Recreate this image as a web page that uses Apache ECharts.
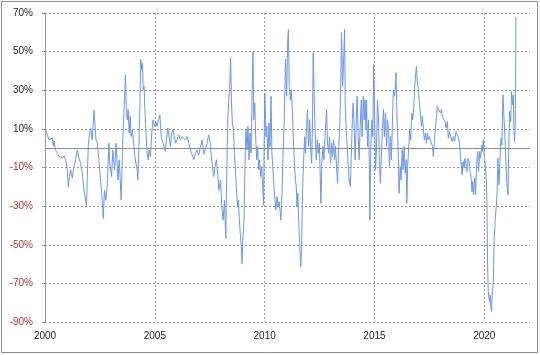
<!DOCTYPE html>
<html>
<head>
<meta charset="utf-8">
<script src="https://cdn.jsdelivr.net/npm/echarts@6/dist/echarts.min.js"></script>
<style>
html,body{margin:0;padding:0;background:#fff;}
#chart{width:540px;height:355px;}
</style>
</head>
<body>
<div id="chart"></div>
<script>
// fractional year of each observation
const years = [
2000.03,2000.11,2000.18,2000.26,2000.33,2000.38,2000.41,2000.48,2000.56,2000.64,2000.71,2000.79,2000.86,2000.94,
2001.01,2001.06,2001.11,2001.17,2001.24,2001.32,2001.39,2001.47,2001.55,2001.62,2001.70,2001.77,2001.85,2001.89,2001.92,2001.97,
2002.01,2002.08,2002.15,2002.23,2002.27,2002.32,2002.38,2002.45,2002.53,2002.61,2002.65,2002.71,2002.77,2002.83,2002.91,2002.95,
2003.03,2003.09,2003.17,2003.24,2003.32,2003.38,2003.47,2003.53,2003.59,2003.64,2003.66,2003.70,2003.74,2003.79,2003.83,2003.88,2003.92,2003.98,
2004.05,2004.09,2004.14,2004.20,2004.23,2004.27,2004.32,2004.36,2004.41,2004.44,2004.47,2004.51,2004.56,2004.60,2004.65,2004.70,2004.74,2004.80,2004.86,2004.92,2004.99,
2005.05,2005.10,2005.17,2005.23,2005.29,2005.35,2005.41,2005.47,2005.53,2005.59,2005.65,2005.71,2005.77,2005.83,2005.89,2005.95,
2006.01,2006.09,2006.17,2006.24,2006.32,2006.40,2006.47,2006.55,2006.62,2006.70,2006.77,2006.85,2006.92,
2007.00,2007.08,2007.15,2007.23,2007.30,2007.38,2007.45,2007.50,2007.56,2007.62,2007.68,2007.74,2007.80,2007.86,2007.92,2007.99,
2008.05,2008.11,2008.17,2008.23,2008.27,2008.32,2008.36,2008.41,2008.45,2008.49,2008.53,2008.58,2008.62,2008.67,2008.71,2008.76,2008.80,2008.85,2008.89,2008.94,2008.97,
2009.01,2009.06,2009.11,2009.15,2009.20,2009.24,2009.29,2009.33,2009.38,2009.42,2009.47,2009.50,2009.55,2009.59,2009.64,2009.68,2009.73,2009.77,2009.82,2009.86,2009.91,2009.95,2009.99,
2010.01,2010.06,2010.10,2010.15,2010.20,2010.24,2010.29,2010.33,2010.38,2010.42,2010.47,2010.51,2010.56,2010.61,2010.65,2010.70,2010.74,2010.79,2010.83,2010.89,2010.95,
2011.00,2011.05,2011.08,2011.12,2011.17,2011.21,2011.26,2011.30,2011.35,2011.40,2011.44,2011.47,2011.51,2011.56,2011.60,2011.64,2011.68,2011.73,2011.77,2011.82,2011.86,2011.91,2011.95,
2012.00,2012.05,2012.09,2012.14,2012.18,2012.21,2012.26,2012.30,2012.35,2012.40,2012.44,2012.49,2012.53,2012.56,2012.60,2012.65,2012.70,2012.74,2012.79,2012.82,2012.86,2012.91,2012.95,
2013.00,2013.05,2013.09,2013.14,2013.18,2013.23,2013.27,2013.32,2013.36,2013.41,2013.45,2013.50,2013.55,2013.59,2013.64,2013.67,2013.71,2013.76,2013.80,2013.85,2013.90,2013.94,2013.99,
2014.03,2014.08,2014.12,2014.17,2014.21,2014.26,2014.30,2014.35,2014.40,2014.44,2014.49,2014.53,2014.57,2014.61,2014.64,2014.68,2014.73,2014.76,2014.79,2014.83,2014.88,2014.92,2014.97,
2015.00,2015.05,2015.09,2015.14,2015.18,2015.23,2015.27,2015.32,2015.36,2015.41,2015.45,2015.50,2015.55,2015.59,2015.64,2015.68,2015.73,2015.77,2015.82,2015.86,2015.91,2015.95,2015.98,
2016.03,2016.08,2016.12,2016.17,2016.21,2016.26,2016.30,2016.35,2016.40,2016.44,2016.47,2016.51,2016.56,2016.60,2016.65,2016.70,2016.74,2016.79,2016.83,2016.88,2016.91,2016.95,
2017.00,2017.05,2017.09,2017.14,2017.18,2017.23,2017.27,2017.32,2017.36,2017.41,2017.45,2017.50,2017.55,2017.59,2017.64,2017.68,2017.73,2017.77,2017.82,2017.86,2017.91,2017.95,
2018.00,2018.05,2018.09,2018.14,2018.21,2018.26,2018.32,2018.36,2018.41,2018.47,2018.53,2018.59,2018.65,2018.71,2018.77,2018.83,2018.89,2018.94,2018.99,
2019.03,2019.08,2019.12,2019.17,2019.21,2019.26,2019.31,2019.35,2019.40,2019.44,2019.47,2019.51,2019.56,2019.60,2019.65,2019.70,2019.74,2019.79,2019.83,2019.89,2019.92,2019.95,
2020.00,2020.05,2020.09,2020.12,2020.15,2020.18,2020.21,2020.24,2020.27,2020.30,2020.33,2020.36,2020.41,2020.45,2020.50,2020.55,2020.59,2020.62,2020.67,2020.71,2020.76,2020.80,2020.85,2020.89,2020.94,2020.99,
2021.03,2021.08,2021.11,2021.15,2021.20,2021.24,2021.29,2021.32,2021.35,2021.38,2021.41,2021.44
];
// percentage change (%)
const values = [
9.5,8.7,4.3,3.5,5.2,1,4,-1,-2.6,-4.3,-3.5,-5.2,-4,-6,
-10.4,-20,-14.7,-11.3,-15.6,-9.5,-6,-1,-5.2,-7.8,-13,-21.7,-26.9,-30.3,-16.5,0.9,
6,10.4,4.3,19.6,13,4.3,2.6,-6,-16.5,-27,-36.4,-21.7,-27,-20,2.6,-7.8,
-14.7,-1,-11.3,2.6,-16.5,-6,-27,1,18,30.3,38,21.7,14.7,20,7.8,16.5,6,9.5,
0.9,-4.3,-7.8,-11.3,-16.5,-0.9,21.7,46,40.7,44,30.3,32,16.5,7.8,-2.6,-6,-0.9,-4.3,7.8,14.7,11.3,
13.9,11.3,14.7,17.3,6,3.5,0.9,-1.7,4.3,10.4,6,0.9,7.8,9.5,6,2.6,
4.3,6.9,4.3,6,6.9,4.3,6,2.6,-0.9,-3.5,-6,-2.6,-0.9,
-3.5,0.9,4.3,-3,-0.5,2.6,6.9,4.3,-2.6,-9.5,-14.7,-9.5,-6,-13,-21.7,-16.5,
-30.3,-37.3,-26.9,-46.8,-16.5,14.7,23.4,32,46.8,23.4,13,9.5,-2.6,-11.3,-20,-30.3,-26.9,-37.3,-44.2,-51,-59.8,
-46,-37.3,-6,9.5,-0.9,11.3,-6,7.8,-2.6,23.4,50,14.7,23.4,6,-6,0.9,-11.3,-6,-14.7,-9.5,-20,-29.5,14.7,
28.6,6,11.3,-6,13,0.9,26.9,-2.6,-11.3,-20,-26.9,-32,-25,-30.3,-27.7,-32,-37.3,-23.4,-6,13,46,
26.9,56.3,61.5,32,25,30.3,20,6,-6,-16.5,-20,-30.3,-23.4,-40.7,-51,-61.5,-52.9,-20,-7.8,6,-2.6,11.3,20,
0.9,14.7,0.9,-7.8,14.7,49.4,23.4,7.8,-6,4.3,-2.6,2.6,-14.7,-28.6,-7.8,0.9,-6,4.3,14.7,20,2.6,-2.6,6,
-7.8,2.6,-4.3,4.3,-6,0.9,-9.5,-18.2,-2.6,9.5,23.4,59.8,32,44.2,61.5,23.4,9.5,0.9,-9.5,-16.5,-20,-6,14.7,
23.4,9.5,-6,14.7,26.9,6,-6,11.3,25,6,26.9,14.7,25,9.5,25,0.9,14.7,-6,-37.3,-2.6,14.7,6,43.3,
18.2,-11.3,-0.9,25,14.7,-9.5,-18.2,-2.6,9.5,20,6,18.2,0.9,14.7,9.5,-9.5,6,-6,14.7,30.3,26.9,32,39,
14.7,-2.6,-23.4,-9.5,-16.5,-0.9,-11.3,0.9,-13,-6,-28.6,-9.5,0.9,9.5,4.3,18.2,14.7,21.7,32,39,42.5,33.8,
30.3,23.4,18.2,11.3,16.5,9.5,4.3,7.8,2.6,7.8,4.3,6,6.9,2.6,0.9,-4.3,4.3,9.5,16.5,21.7,20,20.8,
18.2,20,16.5,16,13.8,10.4,13.8,5.2,8.6,6,3.5,6,3.5,8.6,6.9,5.2,0,-6.9,-13.8,
-6.9,-10.4,-5.2,-8.6,-12.1,-5.2,-6.9,-12.1,-15.5,-22.5,-17.3,-24.2,-15.5,-24.2,-8.6,-1.7,-12.1,-1.7,-5.2,1.7,-1.7,4.3,
-3.5,-10.4,-15.5,-29.4,-60.4,-74.3,-77.7,-79.4,-76,-82.9,-84.6,-76,-69.1,-46.6,-36.3,-29.4,-20.7,-5.2,-19,-6.9,5.2,1.7,27.6,17.3,5.2,-8.6,
-19,-24.2,-1.7,19,13.8,29.4,22.5,27.6,8.6,3.5,12.1,68
];
const xTickYears = [2000, 2005, 2010, 2015, 2020];
const yTicks = [-90, -70, -50, -30, -10, 10, 30, 50, 70];

const chart = echarts.init(document.getElementById('chart'), null, {renderer: 'canvas'});
const FONT = 'Liberation Sans, Arial, sans-serif';
const data = years.map((y, i) => [y, values[i]]);

chart.setOption({
  animation: false,
  backgroundColor: '#fff',
  graphic: [{
    type: 'rect', silent: true, z: 100,
    shape: {x: 1.5, y: 1.5, width: 536, height: 351},
    style: {fill: 'none', stroke: '#8c8c8c', lineWidth: 1}
  }],
  grid: {left: 45, right: 10, top: 13, bottom: 33, containLabel: false},
  xAxis: {
    type: 'value',
    min: 2000, max: 2022.08, interval: 5,
    axisLine: {show: false},
    axisTick: {show: true, length: 3, lineStyle: {color: '#999'}},
    axisLabel: {
      margin: 9, color: '#222', fontSize: 10, fontFamily: FONT,
      showMaxLabel: false,
      formatter: v => xTickYears.includes(Math.round(v)) && Math.abs(v - Math.round(v)) < 1e-6 ? String(Math.round(v)) : ''
    },
    splitLine: {show: true, showMinLine: false, showMaxLine: false,
      lineStyle: {color: '#999', type: [2, 2], width: 1}}
  },
  yAxis: {
    type: 'value',
    min: -90, max: 70, interval: 20,
    axisLine: {show: true, lineStyle: {color: '#999', width: 1}},
    axisTick: {show: true, length: 3, lineStyle: {color: '#999'}},
    axisLabel: {
      margin: 12, fontSize: 10, fontFamily: FONT,
      formatter: v => yTicks.includes(v) ? (v < 0 ? '{n|' + v + '%}' : '{p|' + v + '%}') : '',
      rich: {
        n: {color: '#b8312f', fontSize: 10, fontFamily: FONT},
        p: {color: '#222', fontSize: 10, fontFamily: FONT}
      }
    },
    splitLine: {show: true, lineStyle: {color: '#999', type: [2, 2], width: 1}}
  },
  series: [{
    type: 'line',
    data: data,
    showSymbol: false,
    symbol: 'none',
    lineStyle: {color: '#6a97e6', width: 1},
    markLine: {
      silent: true, symbol: 'none', label: {show: false},
      lineStyle: {color: '#8c8c8c', type: 'solid', width: 1},
      data: [{yAxis: 0}]
    }
  }]
});
</script>
</body>
</html>
